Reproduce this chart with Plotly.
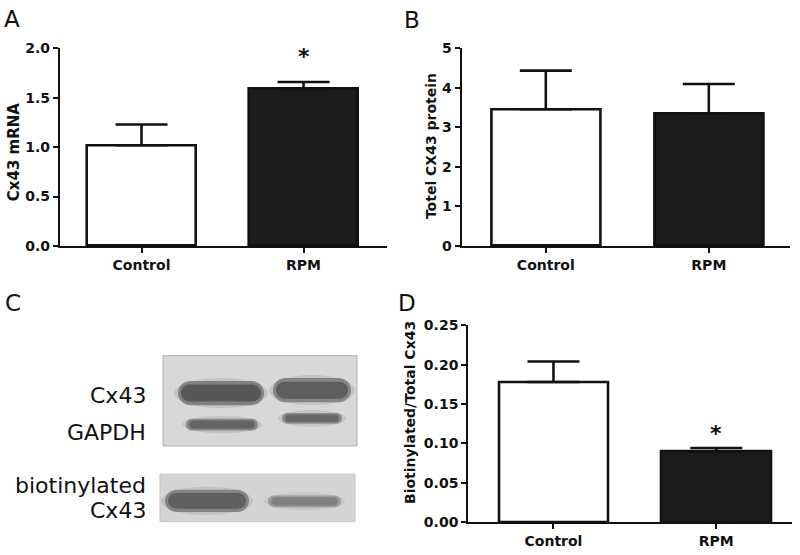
import plotly.graph_objects as go

W, H = 800, 555

categories = ["Control", "RPM"]
bar_colors = ["#ffffff", "#1c1c1c"]

# Panel A
mrna_values = [1.02, 1.59]
mrna_err = [0.21, 0.07]
# Panel B
protein_values = [3.46, 3.36]
protein_err = [0.98, 0.74]
# Panel D
ratio_values = [0.178, 0.090]
ratio_err = [0.026, 0.004]

# Blot (decorative image substitute)
blot_labels_upper = ["Cx43", "GAPDH"]
blot_labels_lower = ["biotinylated", "Cx43"]

FONT = "DejaVu Sans, Verdana, sans-serif"
LFONT = "DejaVu Sans, Verdana, sans-serif"


def px(x):
    return x / W


def py(y):
    return 1 - y / H


fig = go.Figure()

panels = [
    (mrna_values, mrna_err, "x", "y", (60, 387), (245, 41.7), [-0.503, 1.515], [0, 2.0], 0.5, ".1f"),
    (protein_values, protein_err, "x2", "y2", (461.7, 790), (245, 41.7), [-0.516, 1.498], [0, 5], 1, "d"),
    (ratio_values, ratio_err, "x3", "y3", (468.3, 791.7), (529.3, 326.7), [-0.523, 1.463], [0, 0.25], 0.05, ".2f"),
]

layout_axes = {}
for i, (vals, errs, xa, ya, xd, yd, xr, yr, dt, fmt) in enumerate(panels):
    fig.add_trace(go.Bar(
        x=[0, 1], y=vals, xaxis=xa, yaxis=ya, width=0.67,
        marker=dict(color=bar_colors, line=dict(color="#111111", width=2.6)),
        error_y=dict(type="data", array=errs, arrayminus=[0, 0], symmetric=False,
                     color="#111111", thickness=2.6, width=26),
        showlegend=False, hoverinfo="skip",
    ))
    xname = "xaxis" if i == 0 else f"xaxis{i+1}"
    yname = "yaxis" if i == 0 else f"yaxis{i+1}"
    layout_axes[xname] = dict(
        domain=[px(xd[0]), px(xd[1])], range=xr, anchor=ya,
        tickmode="array", tickvals=[0, 1], ticktext=categories,
        showline=True, linecolor="#111111", linewidth=2.2,
        ticks="outside", ticklen=5, tickwidth=2.2, tickcolor="#111111",
        showgrid=False, zeroline=False,
        tickfont=dict(family=FONT, size=14, color="#111111", weight="bold"),
        fixedrange=True,
    )
    layout_axes[yname] = dict(
        domain=[py(yd[0]), py(yd[1])], range=yr, anchor=xa,
        dtick=dt, tick0=0, tickformat=fmt,
        showline=True, linecolor="#111111", linewidth=2.2,
        ticks="outside", ticklen=5, tickwidth=2.2, tickcolor="#111111",
        showgrid=False, zeroline=False,
        tickfont=dict(family=FONT, size=14, color="#111111", weight="bold"),
        fixedrange=True,
    )

# Blot axes (pixel-like coordinates)
fig.add_trace(go.Scatter(x=[], y=[], xaxis="x4", yaxis="y4", showlegend=False))
layout_axes["xaxis4"] = dict(domain=[px(150), px(370)], range=[150, 370], visible=False,
                             anchor="y4", fixedrange=True)
layout_axes["yaxis4"] = dict(domain=[py(540), py(350)], range=[540, 350], visible=False,
                             anchor="x4", fixedrange=True)


def stadium(x0, x1, y0, y1):
    r = (y1 - y0) / 2
    k = 0.55 * r
    return (f"M {x0 + r},{y0} L {x1 - r},{y0} "
            f"C {x1 - r + k},{y0} {x1},{y0 + r - k} {x1},{y0 + r} "
            f"C {x1},{y0 + r + k} {x1 - r + k},{y1} {x1 - r},{y1} "
            f"L {x0 + r},{y1} "
            f"C {x0 + r - k},{y1} {x0},{y0 + r + k} {x0},{y0 + r} "
            f"C {x0},{y0 + r - k} {x0 + r - k},{y0} {x0 + r},{y0} Z")


shapes = []
shapes.append(dict(type="rect", xref="x4", yref="y4", x0=163, x1=357, y0=358, y1=451,
                   fillcolor="#d8d8d8", line=dict(color="#b0b0b0", width=1), layer="below"))
shapes.append(dict(type="rect", xref="x4", yref="y4", x0=160, x1=355, y0=480, y1=529,
                   fillcolor="#d4d4d4", line=dict(color="#c4c4c4", width=1), layer="below"))

bands = [
    (178, 264, 384, 409, "#4a4a4a"),
    (273, 351, 381, 406, "#525252"),
    (186, 258, 423, 435, "#585858"),
    (282, 342, 417, 428, "#5c5c5c"),
    (165, 249, 496, 519, "#545454"),
    (268, 341, 502, 514, "#777777"),
]
for x0, x1, y0, y1, c in bands:
    shapes.append(dict(type="circle", xref="x4", yref="y4", x0=x0 - 4, x1=x1 + 4, y0=y0 - 3, y1=y1 + 3,
                       fillcolor=c, opacity=0.15, line=dict(width=0), layer="above"))
    shapes.append(dict(type="path", xref="x4", yref="y4", path=stadium(x0, x1, y0, y1),
                       fillcolor=c, opacity=0.55, line=dict(width=0), layer="above"))
    shapes.append(dict(type="path", xref="x4", yref="y4",
                       path=stadium(x0 + 3, x1 - 3, y0 + (y1 - y0) * 0.15, y1 - (y1 - y0) * 0.15),
                       fillcolor=c, opacity=0.75, line=dict(width=0), layer="above"))

annotations = []
for letter, xx, yy in [("A", 11.5, 11.5), ("B", 412, 12.5), ("C", 12.5, 303.5), ("D", 407, 303.5)]:
    annotations.append(dict(text=letter, xref="paper", yref="paper", x=px(xx), y=py(yy),
                            xanchor="center", yanchor="middle", showarrow=False,
                            font=dict(family=LFONT, size=23, color="#111111")))
for txt, xx, yy, fs in [("Cx43 mRNA", 14, 148.5, 15), ("Totel CX43 protein", 431.7, 142.5, 14),
                        ("Biotinylated/Total Cx43", 410, 416, 14)]:
    annotations.append(dict(text=txt, xref="paper", yref="paper", x=px(xx), y=py(yy),
                            xanchor="center", yanchor="middle", textangle=-90, showarrow=False,
                            font=dict(family=FONT, size=fs, color="#111111", weight="bold")))
annotations.append(dict(text="*", xref="x", yref="y", x=1, y=1.92, showarrow=False,
                        font=dict(family=FONT, size=22, color="#111111", weight="bold")))
annotations.append(dict(text="*", xref="x3", yref="y3", x=1, y=0.113, showarrow=False,
                        font=dict(family=FONT, size=22, color="#111111", weight="bold")))
for txt, yy in [(blot_labels_upper[0], 399), (blot_labels_upper[1], 437),
                (blot_labels_lower[0], 492), (blot_labels_lower[1], 517)]:
    annotations.append(dict(text=txt, xref="paper", yref="paper", x=px(148), y=py(yy),
                            xanchor="right", yanchor="middle", showarrow=False,
                            font=dict(family=LFONT, size=22, color="#111111")))

fig.update_layout(
    width=W, height=H,
    margin=dict(l=0, r=0, t=0, b=0),
    paper_bgcolor="white", plot_bgcolor="white",
    shapes=shapes, annotations=annotations,
    bargap=0,
    **layout_axes,
)

fig.write_html("out.html", config={"displayModeBar": False},
               post_script="document.body.style.margin='0';")
